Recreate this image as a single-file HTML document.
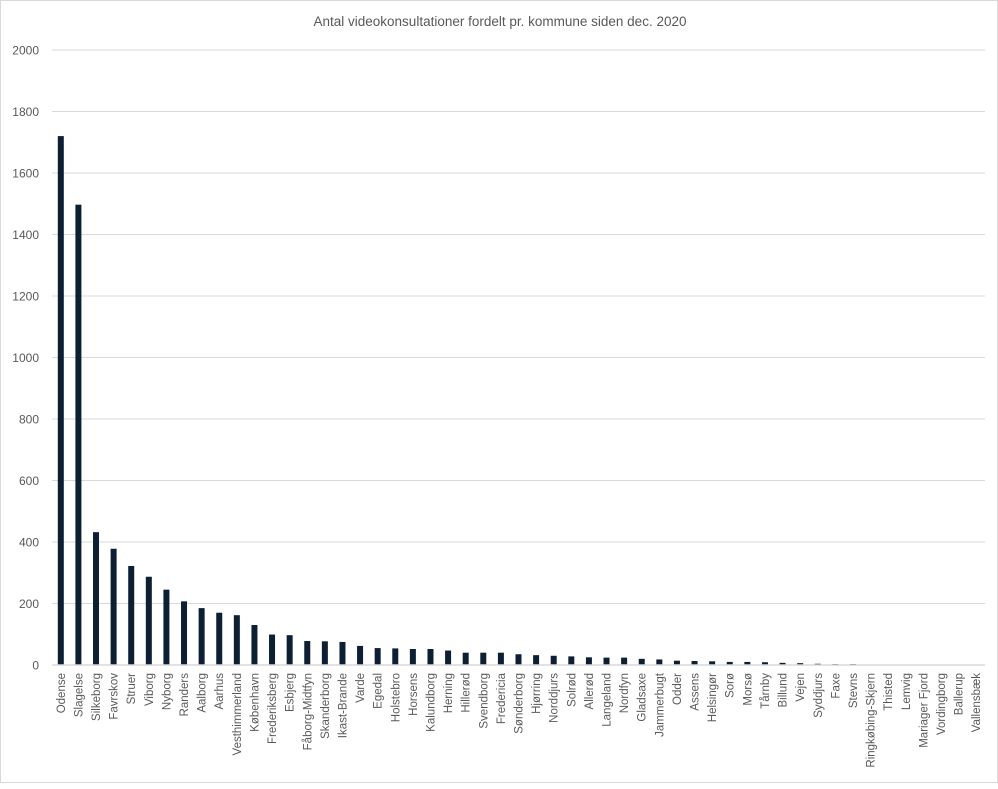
<!DOCTYPE html>
<html><head><meta charset="utf-8"><style>
body{margin:0;background:#fff;font-family:"Liberation Sans",sans-serif}
#wrap{position:relative;width:998px;height:783px;border:1px solid #d9d9d9;box-sizing:border-box}
</style></head><body>
<div id="wrap">
<svg id="chart" width="998" height="783"></svg>
</div>
<script>
const categories=["Odense","Slagelse","Silkeborg","Favrskov","Struer","Viborg","Nyborg","Randers","Aalborg","Aarhus","Vesthimmerland","København","Frederiksberg","Esbjerg","Fåborg-Midtfyn","Skanderborg","Ikast-Brande","Varde","Egedal","Holstebro","Horsens","Kalundborg","Herning","Hillerød","Svendborg","Fredericia","Sønderborg","Hjørring","Norddjurs","Solrød","Allerød","Langeland","Nordfyn","Gladsaxe","Jammerbugt","Odder","Assens","Helsingør","Sorø","Morsø","Tårnby","Billund","Vejen","Syddjurs","Faxe","Stevns","Ringkøbing-Skjern","Thisted","Lemvig","Mariager Fjord","Vordingborg","Ballerup","Vallensbæk"];
const values=[1720,1497,432,378,322,287,245,207,185,170,162,130,99,97,78,77,75,62,55,54,52,52,47,40,40,40,35,32,30,28,25,24,24,20,18,14,13,12,10,10,9,7,6,4,3,3,0,0,0,0,0,0,0];
const yTicks=[0,200,400,600,800,1000,1200,1400,1600,1800,2000];
const title="Antal videokonsultationer fordelt pr. kommune siden dec. 2020";
const svg=document.getElementById('chart');const NS="http://www.w3.org/2000/svg";
const L=51,R=984,T=49,B=664,yMax=2000;
const y=v=>B-(v/yMax)*(B-T);
const step=(R-L)/categories.length;
const x=i=>L+step*(i+0.5);
function mk(t,a){const e=document.createElementNS(NS,t);for(const k in a)e.setAttribute(k,a[k]);svg.appendChild(e);return e;}
let tt=mk('text',{x:499,y:25,'text-anchor':'middle','font-size':13.5,fill:'#595959'});tt.textContent=title;


yTicks.forEach(v=>{
 if(v>0){const g=mk('line',{x1:L,x2:R,y1:y(v),y2:y(v),stroke:'#d9d9d9','stroke-width':1});
 
 }
 const t=mk('text',{x:38,y:y(v)+4.5,'text-anchor':'end','font-size':12,fill:'#595959'});t.textContent=v;
 
 
});
values.forEach((v,i)=>{
 const r=mk('rect',{x:x(i)-3,y:y(v),width:6,height:B-y(v),fill:'#0c1f33'});
 
 
 const t=mk('text',{transform:`translate(${x(i)+4},${672}) rotate(-90)`,'text-anchor':'end','font-size':11.5,fill:'#595959'});t.textContent=categories[i];
 
 
});
const ax=mk('line',{x1:L,x2:R,y1:B,y2:B,stroke:'#d9d9d9','stroke-width':1.5});


</script>
</body></html>
